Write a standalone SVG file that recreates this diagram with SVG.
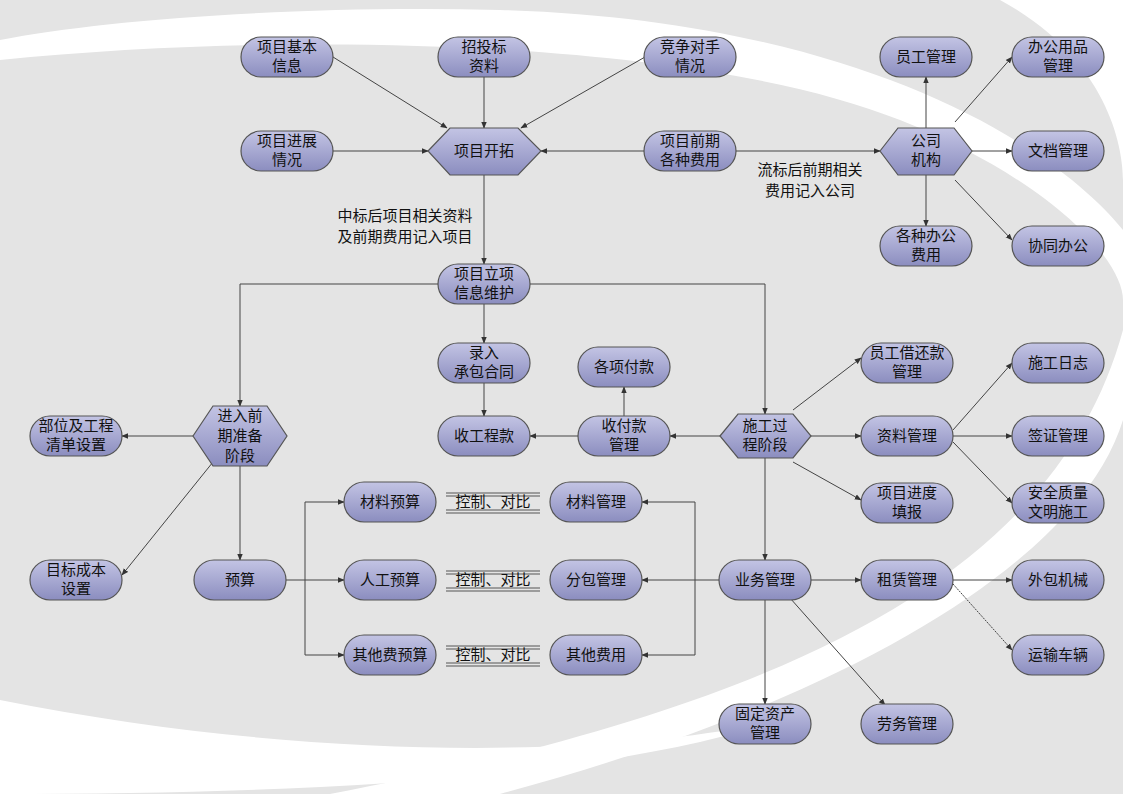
<svg xmlns="http://www.w3.org/2000/svg" width="1123" height="794" viewBox="0 0 1123 794">
<defs>
<linearGradient id="g" x1="0" y1="0" x2="0" y2="1"><stop offset="0" stop-color="#c3c4e4"/><stop offset="1" stop-color="#8b8dbf"/></linearGradient>
<marker id="a" viewBox="0 0 10 10" refX="9" refY="5" markerWidth="7" markerHeight="7" orient="auto"><path d="M0,1L10,5L0,9z" fill="#333"/></marker>
<style>
.n rect,.n polygon{fill:url(#g);stroke:#555;stroke-width:1.2}
text{font-family:"Noto Sans CJK SC","Liberation Sans",sans-serif;font-size:15px;fill:#111;text-anchor:middle}
#edges path,#edges line{stroke:#444;stroke-width:1;fill:none;marker-end:url(#a)}
#edges .p{marker-end:none}
.dl{stroke:#555;stroke-width:1}
</style>
</defs>
<rect width="1123" height="794" fill="#e4e4e4"/>
<path d="M0,60 C300,30 700,40 900,120 C1050,180 1123,260 1123,300 L1123,230 C1050,140 850,20 500,10 C300,5 100,20 0,40z" fill="#fff"/>
<path d="M1123,330 C1060,560 820,700 330,794 L500,794 C850,700 1080,560 1123,420z" fill="#fff"/>
<path d="M0,700 C300,760 600,760 780,720 C600,780 300,794 0,794z" fill="#fff"/>
<path d="M1000,0 C1110,60 1123,150 1123,180 L1123,0z" fill="#fff"/>
<g id="edges">
<line x1="333" y1="57" x2="447" y2="128"/>
<line x1="484" y1="77" x2="484" y2="128"/>
<line x1="645" y1="57" x2="521" y2="128"/>
<line x1="333" y1="151" x2="428" y2="151"/>
<line x1="645" y1="151" x2="541" y2="151"/>
<line x1="736" y1="151" x2="880" y2="151"/>
<line x1="926" y1="128" x2="926" y2="77"/>
<line x1="955" y1="122" x2="1012" y2="57"/>
<line x1="972" y1="151" x2="1012" y2="151"/>
<line x1="926" y1="175" x2="926" y2="226"/>
<line x1="955" y1="180" x2="1012" y2="240"/>
<line x1="484" y1="175" x2="484" y2="264"/>
<path d="M438,284H240V406"/>
<path d="M530,284H765V414"/>
<line x1="484" y1="304" x2="484" y2="343"/>
<line x1="484" y1="383" x2="484" y2="416"/>
<line x1="578" y1="436" x2="530" y2="436"/>
<line x1="624" y1="416" x2="624" y2="387"/>
<line x1="720" y1="436" x2="670" y2="436"/>
<line x1="793" y1="410" x2="861" y2="358"/>
<line x1="811" y1="436" x2="861" y2="436"/>
<line x1="793" y1="462" x2="861" y2="500"/>
<line x1="953" y1="430" x2="1012" y2="363"/>
<line x1="953" y1="436" x2="1012" y2="436"/>
<line x1="953" y1="442" x2="1012" y2="503"/>
<line x1="765" y1="458" x2="765" y2="560"/>
<line x1="719" y1="580" x2="642" y2="580"/>
<line x1="811" y1="580" x2="861" y2="580"/>
<line x1="765" y1="600" x2="765" y2="704"/>
<line x1="790" y1="598" x2="885" y2="705"/>
<line x1="953" y1="580" x2="1012" y2="580"/>
<line x1="953" y1="584" x2="1012" y2="650" stroke-dasharray="2,1"/>
<path class="p" d="M695,502V655"/>
<line x1="695" y1="502" x2="642" y2="502"/>
<line x1="695" y1="655" x2="642" y2="655"/>
<line x1="193" y1="436" x2="122" y2="436"/>
<line x1="213" y1="462" x2="122" y2="575"/>
<line x1="240" y1="466" x2="240" y2="560"/>
<path class="p" d="M286,580H305M305,502V655"/>
<line x1="305" y1="580" x2="344" y2="580"/>
<line x1="305" y1="502" x2="344" y2="502"/>
<line x1="305" y1="655" x2="344" y2="655"/>
</g>
<g id="labels">
<text x="405" y="221">中标后项目相关资料</text><text x="405" y="242">及前期费用记入项目</text>
<text x="810" y="175">流标后前期相关</text><text x="810" y="196">费用记入公司</text>
<g id="cmp1"><path class="dl" d="M446,493H540M446,496H540M446,510H540M446,513H540"/><text x="493" y="507">控制、对比</text></g>
<g id="cmp2"><path class="dl" d="M446,571H540M446,574H540M446,588H540M446,591H540"/><text x="493" y="585">控制、对比</text></g>
<g id="cmp3"><path class="dl" d="M446,646H540M446,649H540M446,663H540M446,666H540"/><text x="493" y="660">控制、对比</text></g>
</g>
<g id="nodes">
<g id="n1" class="n"><rect x="241" y="37" width="92" height="40" rx="20"/><text x="287" y="52">项目基本</text><text x="287" y="71">信息</text></g>
<g id="n2" class="n"><rect x="438" y="37" width="92" height="40" rx="20"/><text x="484" y="52">招投标</text><text x="484" y="71">资料</text></g>
<g id="n3" class="n"><rect x="644" y="37" width="92" height="40" rx="20"/><text x="690" y="52">竞争对手</text><text x="690" y="71">情况</text></g>
<g id="n4" class="n"><rect x="241" y="131" width="92" height="40" rx="20"/><text x="287" y="146">项目进展</text><text x="287" y="165">情况</text></g>
<g id="n5" class="n"><polygon points="428,151 450,128 518,128 541,151 518,175 450,175"/><text x="484" y="156">项目开拓</text></g>
<g id="n6" class="n"><rect x="644" y="131" width="92" height="40" rx="20"/><text x="690" y="146">项目前期</text><text x="690" y="165">各种费用</text></g>
<g id="n7" class="n"><polygon points="880,151 898,128 954,128 972,151 954,175 898,175"/><text x="926" y="146">公司</text><text x="926" y="165">机构</text></g>
<g id="n8" class="n"><rect x="880" y="37" width="92" height="40" rx="20"/><text x="926" y="62">员工管理</text></g>
<g id="n9" class="n"><rect x="1012" y="37" width="92" height="40" rx="20"/><text x="1058" y="52">办公用品</text><text x="1058" y="71">管理</text></g>
<g id="n10" class="n"><rect x="1012" y="131" width="92" height="40" rx="20"/><text x="1058" y="156">文档管理</text></g>
<g id="n11" class="n"><rect x="880" y="226" width="92" height="40" rx="20"/><text x="926" y="241">各种办公</text><text x="926" y="260">费用</text></g>
<g id="n12" class="n"><rect x="1012" y="226" width="92" height="40" rx="20"/><text x="1058" y="251">协同办公</text></g>
<g id="n13" class="n"><rect x="438" y="264" width="92" height="40" rx="20"/><text x="484" y="279">项目立项</text><text x="484" y="298">信息维护</text></g>
<g id="n14" class="n"><rect x="438" y="343" width="92" height="40" rx="20"/><text x="484" y="358">录入</text><text x="484" y="377">承包合同</text></g>
<g id="n15" class="n"><rect x="578" y="347" width="92" height="40" rx="20"/><text x="624" y="372">各项付款</text></g>
<g id="n16" class="n"><rect x="438" y="416" width="92" height="40" rx="20"/><text x="484" y="441">收工程款</text></g>
<g id="n17" class="n"><rect x="578" y="416" width="92" height="40" rx="20"/><text x="624" y="431">收付款</text><text x="624" y="450">管理</text></g>
<g id="n18" class="n"><polygon points="720,436 738,414 793,414 811,436 793,458 738,458"/><text x="765" y="431">施工过</text><text x="765" y="450">程阶段</text></g>
<g id="n19" class="n"><rect x="861" y="343" width="92" height="40" rx="20"/><text x="907" y="358">员工借还款</text><text x="907" y="377">管理</text></g>
<g id="n20" class="n"><rect x="861" y="416" width="92" height="40" rx="20"/><text x="907" y="441">资料管理</text></g>
<g id="n21" class="n"><rect x="861" y="483" width="92" height="40" rx="20"/><text x="907" y="498">项目进度</text><text x="907" y="517">填报</text></g>
<g id="n22" class="n"><rect x="1012" y="343" width="92" height="40" rx="20"/><text x="1058" y="368">施工日志</text></g>
<g id="n23" class="n"><rect x="1012" y="416" width="92" height="40" rx="20"/><text x="1058" y="441">签证管理</text></g>
<g id="n24" class="n"><rect x="1012" y="483" width="92" height="40" rx="20"/><text x="1058" y="498">安全质量</text><text x="1058" y="517">文明施工</text></g>
<g id="n25" class="n"><polygon points="193,436 213,406 267,406 287,436 267,466 213,466"/><text x="240" y="421">进入前</text><text x="240" y="441">期准备</text><text x="240" y="461">阶段</text></g>
<g id="n26" class="n"><rect x="30" y="416" width="92" height="40" rx="20"/><text x="76" y="431">部位及工程</text><text x="76" y="450">清单设置</text></g>
<g id="n27" class="n"><rect x="30" y="560" width="92" height="40" rx="20"/><text x="76" y="575">目标成本</text><text x="76" y="594">设置</text></g>
<g id="n28" class="n"><rect x="194" y="560" width="92" height="40" rx="20"/><text x="240" y="585">预算</text></g>
<g id="n29" class="n"><rect x="344" y="482" width="92" height="40" rx="20"/><text x="390" y="507">材料预算</text></g>
<g id="n30" class="n"><rect x="344" y="560" width="92" height="40" rx="20"/><text x="390" y="585">人工预算</text></g>
<g id="n31" class="n"><rect x="344" y="635" width="92" height="40" rx="20"/><text x="390" y="660">其他费预算</text></g>
<g id="n32" class="n"><rect x="550" y="482" width="92" height="40" rx="20"/><text x="596" y="507">材料管理</text></g>
<g id="n33" class="n"><rect x="550" y="560" width="92" height="40" rx="20"/><text x="596" y="585">分包管理</text></g>
<g id="n34" class="n"><rect x="550" y="635" width="92" height="40" rx="20"/><text x="596" y="660">其他费用</text></g>
<g id="n35" class="n"><rect x="719" y="560" width="92" height="40" rx="20"/><text x="765" y="585">业务管理</text></g>
<g id="n36" class="n"><rect x="861" y="560" width="92" height="40" rx="20"/><text x="907" y="585">租赁管理</text></g>
<g id="n37" class="n"><rect x="1012" y="560" width="92" height="40" rx="20"/><text x="1058" y="585">外包机械</text></g>
<g id="n38" class="n"><rect x="1012" y="635" width="92" height="40" rx="20"/><text x="1058" y="660">运输车辆</text></g>
<g id="n39" class="n"><rect x="719" y="704" width="92" height="40" rx="20"/><text x="765" y="719">固定资产</text><text x="765" y="738">管理</text></g>
<g id="n40" class="n"><rect x="861" y="704" width="92" height="40" rx="20"/><text x="907" y="729">劳务管理</text></g>
</g>
</svg>
